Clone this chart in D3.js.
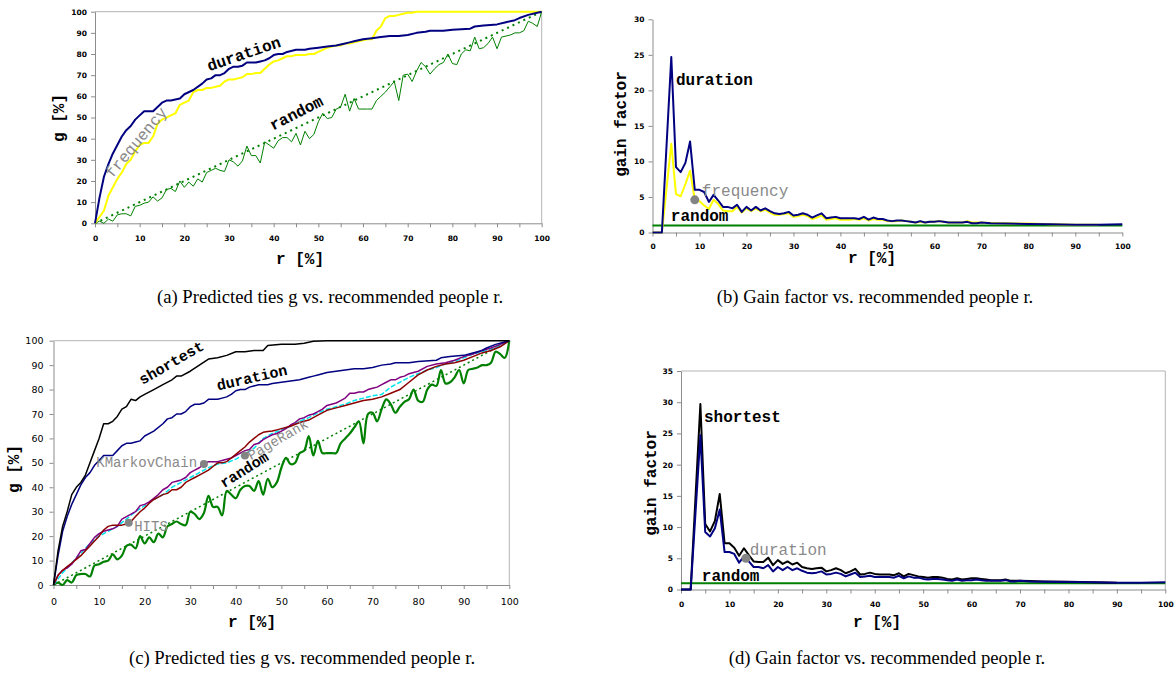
<!DOCTYPE html>
<html>
<head>
<meta charset="utf-8">
<script src="https://cdn.jsdelivr.net/npm/d3@7"></script>
<style>
  html, body { margin: 0; padding: 0; background: #fff; }
  svg { display: block; }
</style>
</head>
<body>
<svg id="chart" width="1176" height="677"></svg>
<script>
// ---------------- DATA ----------------
// Panels (a)/(c): predicted ties g [%] vs recommended people r [%]
const rDuration = [0,1,2,3,4,5,6,7,8,9,10,11,12,13,14,15,16,17,18,19,20,22,24,25,26,27,28,29,30,31,32,33,34,35,36,37,38,39,40,41,42,43,45,47,48,50,52,54,56,57,58,60,62,64,66,68,70,72,74,75,78,80,84,85,87,90,92,94,95,97,99,100];
const gDuration = [0,12,22,28,33,37,41,44,46,49,51,53,53,53,55,57,58,58,58.5,59,61,63,66,68,68.5,70,70,71,73,74,74,74.5,76,76,76,76.5,77,78,79.5,80,80,81,82,82,82.5,83,83.5,84,85,85.5,86,87,87.5,88,88.5,88.5,89,90,90.5,91,91,91.5,92,93,93.5,94,95,96,97,98.5,99.5,100];

const rFrequency = [0,1,2,3,4,5,6,7,8,9,10,11,12,13,14,15,16,17,18,19,20,21,22,23,24,25,26,27,28,29,30,31,32,33,34,35,36,37,38,39,40,41,42,43,44,45,46,47,48,49,50,51,52,53,54,55,56,57,58,59,60,61,62,63,64,65,66,67,68,69,70,71,72,100];
const gFrequency = [0,3,6,13,17,21,24,28,30,34,37,38,38,41,47,49,50,51,52,56,57,58,62,63,63,64,64,64.5,65,67,68,68,68.5,69,70.5,70.5,71,71,73,75,76.5,77,78,79,79,79.5,79.5,79.5,80,80,81,82,83,83.5,84,84,85,85,85.5,86,86.5,87,87,91,93,97,98,98,98.5,99,99.5,99.5,100,100];

const rRandom = [0,1,2,3,4,5,6,7,8,9,10,11,12,13,14,15,16,17,18,19,20,21,22,23,24,25,26,27,28,29,30,31,32,33,34,35,36,37,38,39,40,41,42,43,44,45,46,47,48,49,50,51,52,53,54,55,56,57,58,59,60,61,62,63,64,65,66,67,68,69,70,71,72,73,74,75,76,77,78,79,80,81,82,83,84,85,86,87,88,89,90,91,92,93,94,95,96,97,98,99,100];
const gRandom = [0,1,0,2,1,4,4.5,4.5,3.5,8,8.5,9.5,10,12.5,10.5,12,16,16.5,15,20,17,19.5,17.5,21,19.5,24,25,26,25,24.5,30,29,27,29.5,36.5,32,32,28.5,38.5,37,35.5,39,40.5,40.5,38.5,42.5,37,43.5,40,42,48,52,49.5,50,54,55,61,53,59,54,54,54,54,58,60,62,64.5,67,58,70,70.5,67,72,76,74,70.5,73,75,76,80,75.5,75,80,82,81.5,88,82.5,83,85,88,82.5,88,88.5,89,90,90,91,95.5,94.5,93,100];

const rDiagonal = [0,100];
const gDiagonal = [0,100];

const rShortest = [0,1,2,3,4,5,6,7,8,9,10,11,12,13,14,15,16,17,18,19,20,22,24,26,27,28,30,32,34,36,38,40,42,44,46,47,50,53,55,57,60,64,100];
const gShortest = [0,14,24,30,37,40,42,45,50,55,60,66,66,67,69,72,73,76,75.5,77,78,80,82,84,85.5,85.5,87.5,90,92.5,93,94,95.5,95.5,96,96,98,98.5,98.5,99,99.8,100,100,100];

const rMarkov = [0,1,2,3,4,5,6,7,8,9,10,11,12,13,14,15,16,17,18,19,20,21,22,23,24,25,26,27,28,29,30,31,32,33,34,35,36,37,38,39,40,41,42,43,44,45,46,47,48,49,50,51,52,53,54,55,56,57,58,59,60,61,62,63,64,65,66,67,68,69,70,71,72,73,74,75,76,77,78,79,80,82,84,86,88,90,92,94,96,98,100];
const gMarkov = [0,4,6,7,8.5,11,14,14.5,17,19.5,21,22,22.5,23,24,27,28,29,30,32.5,33,34,35.5,37,39,40,42,42.5,43,44,46,47,48,49.5,50.5,50.5,50.5,51,51.5,52,53,54,55,55.5,57.5,58,59.5,60.5,61.5,62,63,64,65.5,66.5,68,68.5,69.5,70,71,72,73.5,74,74.5,75.5,76.5,78.5,78.5,79,79,80,80.5,81,82,83,84,84,85,85.5,86.5,87,87.5,89.5,90.5,91,92,93.5,94.5,96,97,98.5,100];

const rPageRank = [0,2,4,6,8,10,12,14,16,18,20,22,24,26,28,30,32,34,36,38,40,42,44,46,48,50,52,54,56,58,60,62,64,66,68,70,72,74,76,78,80,82,84,86,88,90,92,94,96,98,100];
const gPageRank = [0,5,9,13,17,20,22,24,27,30,32.5,35,37,40,42,44,46,48,49.5,50,51.5,53.5,56,60,62,63.5,65,67,68.5,70.5,72,73,74,75.5,76.5,77.5,78,81,83,85,86.5,88,89,90.5,91.5,93,94.5,95.5,96.5,98,100];

const rHits = [0,1,2,3,4,5,6,7,8,9,10,11,12,13,14,15,16,17,18,19,20,21,22,23,24,25,26,27,28,29,30,31,32,33,34,35,36,37,38,39,40,41,42,43,44,45,46,47,48,49,50,52,54,56,58,60,62,64,66,68,70,72,74,76,78,80,82,84,86,88,90,92,94,96,98,100];
const gHits = [0,4,6,7.5,9,10.5,12,14,16,18,20,22.5,24,24.5,24.5,24.5,25,26,28,30,31.5,33.5,35,36,37,37.5,39,39,40,42,43,44,45,46,47,48.5,50,50,50.5,52,53.5,55,56.5,58.5,60,61.5,62.5,62.8,63,63.5,64,65,66.5,67.5,69.5,71.5,72.5,73.5,74.5,75.5,76,77,78.5,80,83,86,88,89.5,90.5,91,92,93.5,95,96,97.5,100];

// Panels (b)/(d): gain factor vs r [%]
const rGain = [0,2,4,5,6,7,8,9,10,11,12,13,14,15,16,17,18,19,20,21,22,23,24,25,26,27,28,29,30,31,32,33,34,35,36,37,38,39,40,41,42,43,44,45,46,47,48,49,50,51,52,53,54,55,56,57,58,59,60,61,62,63,64,65,66,67,68,69,70,72,75,80,85,90,95,100];
const gainDuration = [0,0,24.7,9.2,8.5,9.8,12.8,6,6,5.7,4.3,5.3,4.5,3.6,3.6,3.4,3.9,2.9,3.6,3.1,3.6,3.1,3.4,3,2.7,2.6,2.7,2.9,2.4,2.5,2.7,2.5,2.1,2.4,2.7,2,2.1,2.2,2,2,2,2,1.9,2.2,1.8,2.1,1.9,1.9,1.7,1.6,1.7,1.7,1.6,1.5,1.4,1.6,1.4,1.5,1.5,1.6,1.5,1.4,1.4,1.4,1.4,1.5,1.3,1.3,1.4,1.3,1.25,1.2,1.15,1.1,1.1,1.15];
const gainFrequency = [0,0,12.5,5.4,5.1,6.8,8.7,4.6,4.4,3.8,3.3,4.6,4,3.1,3,3,3.6,2.8,3.4,3,3.4,3,3.2,2.8,2.5,2.5,2.6,2.7,2.2,2.3,2.5,2.3,1.9,2.1,2.4,1.8,1.9,2,1.8,1.8,1.8,1.9,1.8,2,1.7,1.9,1.8,1.8,1.6,1.6,1.6,1.7,1.6,1.5,1.4,1.5,1.4,1.5,1.5,1.6,1.5,1.4,1.4,1.4,1.4,1.6,1.4,1.4,1.4,1.35,1.3,1.25,1.15,1.1,1.1,null];
const gainShortest = [0,0,29.7,10.5,9.3,11,15.3,7.4,7.4,6.7,5.4,6.6,5.5,4.5,4.4,4.4,5.1,3.9,4.7,4.1,4.5,4,4.3,3.6,3.4,3.3,3.4,3.5,2.9,3.1,3.4,3.1,2.6,2.9,3.3,2.4,2.5,2.7,2.5,2.4,2.4,2.4,2.3,2.6,2.1,2.5,2.3,2.1,2,1.9,2,2,1.9,1.7,1.6,1.8,1.6,1.7,1.8,1.8,1.7,1.6,1.5,1.5,1.5,1.6,1.4,1.4,1.4,1.35,1.3,1.25,1.15,1.1,null,null];
const rGainRandom = [0,100];
const gainRandom = [1,1];

// Tick values
const ticksX = [0,10,20,30,40,50,60,70,80,90,100];
const minorX = [0,5,10,15,20,25,30,35,40,45,50,55,60,65,70,75,80,85,90,95,100];
const ticksG = [0,10,20,30,40,50,60,70,80,90,100];
const ticksGainB = [0,5,10,15,20,25,30];
const ticksGainD = [0,5,10,15,20,25,30,35];

// Text
const captions = [
  "(a) Predicted ties g vs. recommended people r.",
  "(b) Gain factor vs. recommended people r.",
  "(c) Predicted ties g vs. recommended people r.",
  "(d) Gain factor vs. recommended people r."
];

// ---------------- DRAW ----------------
const svg = d3.select("#chart");
const C = {
  blue: "#000080", yellow: "#ffff00", green: "#008000", black: "#000000",
  purple: "#800080", cyan: "#00e5ee", red: "#8b0000", gray: "#8a8a8a", axis: "#8c8c8c", frame: "#b4b4b4"
};
const mono = "'Liberation Mono','Courier New',monospace";

function panel(o) {
  const g = svg.append("g");
  const x = d3.scaleLinear().domain([0,100]).range([o.x0, o.x1]);
  const y = d3.scaleLinear().domain([0, o.ymax]).range([o.y0, o.y1]);
  if (o.frame) {
    g.append("path").attr("d", `M${o.x0},${o.y1}H${o.x1}V${o.y0}`)
      .attr("fill","none").attr("stroke",C.frame).attr("stroke-width",1);
  }
  const ax = g.append("g").attr("transform",`translate(0,${o.y0})`)
    .call(d3.axisBottom(x).tickValues(minorX).tickSize(4).tickSizeOuter(0)
      .tickFormat(d => ticksX.includes(d) ? d : ""));
  const ay = g.append("g").attr("transform",`translate(${o.x0},0)`)
    .call(d3.axisLeft(y).tickValues(o.yticks).tickSize(4).tickSizeOuter(0));
  [ax, ay].forEach(a => {
    a.selectAll("path,line").attr("stroke", C.axis);
    a.selectAll("text").attr("fill","#000")
      .style("font-family", o.tickFont).style("font-size", o.tickSize + "px")
      .style("font-weight", o.tickWeight);
  });
  ax.selectAll("text").attr("y", o.xLabelDy);
  ay.selectAll("text").attr("x", -o.yLabelDx);
  return {g, x, y};
}

function drawLine(P, rs, vs, color, width, dash, curve) {
  const pts = rs.map((r,i) => [r, vs[i]]);
  const line = d3.line().defined(d => d[1] !== null)
    .x(d => P.x(d[0])).y(d => P.y(d[1])).curve(curve || d3.curveLinear);
  P.g.append("path").datum(pts).attr("d", line).attr("fill","none")
    .attr("stroke", color).attr("stroke-width", width)
    .attr("stroke-linejoin","round")
    .attr("stroke-dasharray", dash || null);
}

function label(P, rx, gy, text, opt) {
  return P.g.append("text")
    .attr("transform", `translate(${P.x(rx)},${P.y(gy)}) rotate(${opt.rot || 0})`)
    .attr("text-anchor", opt.anchor || "middle")
    .attr("dominant-baseline", opt.baseline || "auto")
    .style("font-family", mono).style("font-size", opt.size + "px")
    .style("font-weight", opt.bold ? "bold" : "normal")
    .attr("fill", opt.color || "#000").text(text);
}
function dot(P, rx, gy, rad) {
  P.g.append("circle").attr("cx", P.x(rx)).attr("cy", P.y(gy)).attr("r", rad).attr("fill", "#848484");
}
function axisTitle(xp, yp, text, rot, size) {
  svg.append("text").attr("transform", `translate(${xp},${yp}) rotate(${rot})`)
    .attr("text-anchor","middle").attr("dominant-baseline","central")
    .style("font-family", mono).style("font-size", size + "px").style("font-weight","bold")
    .text(text);
}
function caption(xp, yp, text) {
  svg.append("text").attr("x", xp).attr("y", yp).attr("text-anchor","middle")
    .style("font-family","'Liberation Serif','Times New Roman',serif").style("font-size","18.7px")
    .text(text);
}

const smallBold = {tickFont: "'DejaVu Sans',Verdana,sans-serif", tickSize: 7.5, tickWeight: "bold"};

// (a)
const A = panel(Object.assign({x0:95, x1:541.7, y0:223.3, y1:11.7, ymax:100, yticks:ticksG, frame:true, xLabelDy:12, yLabelDx:8}, smallBold));
drawLine(A, rDiagonal, gDiagonal, C.green, 2, "2,4");
drawLine(A, rRandom, gRandom, C.green, 1);
drawLine(A, rFrequency, gFrequency, C.yellow, 2);
drawLine(A, rDuration, gDuration, C.blue, 2);
label(A, 33.4, 79.5, "duration", {rot:-19, size:16, bold:true, baseline:"central"});
label(A, 45.2, 51.6, "random", {rot:-27, size:16, bold:true, baseline:"central"});
label(A, 9.4, 37.9, "frequency", {rot:-50, size:16, color:C.gray, baseline:"central"});
axisTitle(60, 118, "g [%]", -90, 16);
axisTitle(300, 260, "r [%]", 0, 16);
caption(330, 303, captions[0]);

// (b)
const B = panel(Object.assign({x0:652.5, x1:1122.3, y0:232.5, y1:19.3, ymax:30, yticks:ticksGainB, frame:false, xLabelDy:11, yLabelDx:8}, smallBold));
drawLine(B, rGainRandom, gainRandom, C.green, 2);
drawLine(B, rGain, gainFrequency, C.yellow, 2);
drawLine(B, rGain, gainDuration, C.blue, 2);
dot(B, 9, 4.6, 4.5);
label(B, 5.0, 20.75, "duration", {anchor:"start", size:16, bold:true});
label(B, 10.5, 5.08, "frequency", {anchor:"start", size:16, color:C.gray});
label(B, 3.9, 1.56, "random", {anchor:"start", size:16, bold:true});
axisTitle(622, 124, "gain factor", -90, 16);
axisTitle(872, 259, "r [%]", 0, 16);
caption(875, 303, captions[1]);

// (c)
const Cp = panel({x0:53.5, x1:509.3, y0:585, y1:340.7, ymax:100, yticks:ticksG, frame:true, xLabelDy:13, yLabelDx:10,
  tickFont:"'DejaVu Sans',Verdana,sans-serif", tickSize:9.5, tickWeight:"normal"});
drawLine(Cp, rDiagonal, gDiagonal, C.green, 1.5, "2,3");
drawLine(Cp, rRandom, gRandom, C.green, 2.2, null, d3.curveCatmullRom);
drawLine(Cp, rPageRank, gPageRank, C.cyan, 1.5, "5,2");
drawLine(Cp, rMarkov, gMarkov, C.purple, 1.5);
drawLine(Cp, rHits, gHits, C.red, 1.5);
drawLine(Cp, rDuration, gDuration, C.blue, 1.5);
drawLine(Cp, rShortest, gShortest, C.black, 1.5);
dot(Cp, 33, 49.5, 4);
dot(Cp, 42, 53, 4);
dot(Cp, 16.5, 25.5, 4);
label(Cp, 26, 90.5, "shortest", {rot:-30, size:15, bold:true, baseline:"central"});
label(Cp, 43.6, 84.3, "duration", {rot:-13, size:15, bold:true, baseline:"central"});
label(Cp, 42, 46.7, "random", {rot:-32, size:15, bold:true, baseline:"central"});
label(Cp, 49.3, 59.4, "PageRank", {rot:-30, size:14, color:C.gray, baseline:"central"});
label(Cp, 31.5, 48.1, "KMarkovChain", {anchor:"end", size:14, color:C.gray});
label(Cp, 17.7, 22.1, "HITS", {anchor:"start", size:14, color:C.gray});
axisTitle(15, 469, "g [%]", -90, 16);
axisTitle(252, 623, "r [%]", 0, 16);
caption(302, 664, captions[2]);

// (d)
const D = panel(Object.assign({x0:681, x1:1165.3, y0:589.5, y1:371, ymax:35, yticks:ticksGainD, frame:true, xLabelDy:12, yLabelDx:8}, smallBold));
drawLine(D, rGainRandom, gainRandom, C.green, 2);
drawLine(D, rGain, gainShortest, C.black, 2);
drawLine(D, rGain, gainDuration, C.blue, 2);
dot(D, 13.4, 5.0, 4.5);
label(D, 4.75, 26.8, "shortest", {anchor:"start", size:16, bold:true});
label(D, 14.2, 5.6, "duration", {anchor:"start", size:16, color:C.gray});
label(D, 4.3, 1.36, "random", {anchor:"start", size:16, bold:true});
axisTitle(652, 483, "gain factor", -90, 16);
axisTitle(877, 623, "r [%]", 0, 16);
caption(887, 664, captions[3]);
</script>
</body>
</html>
